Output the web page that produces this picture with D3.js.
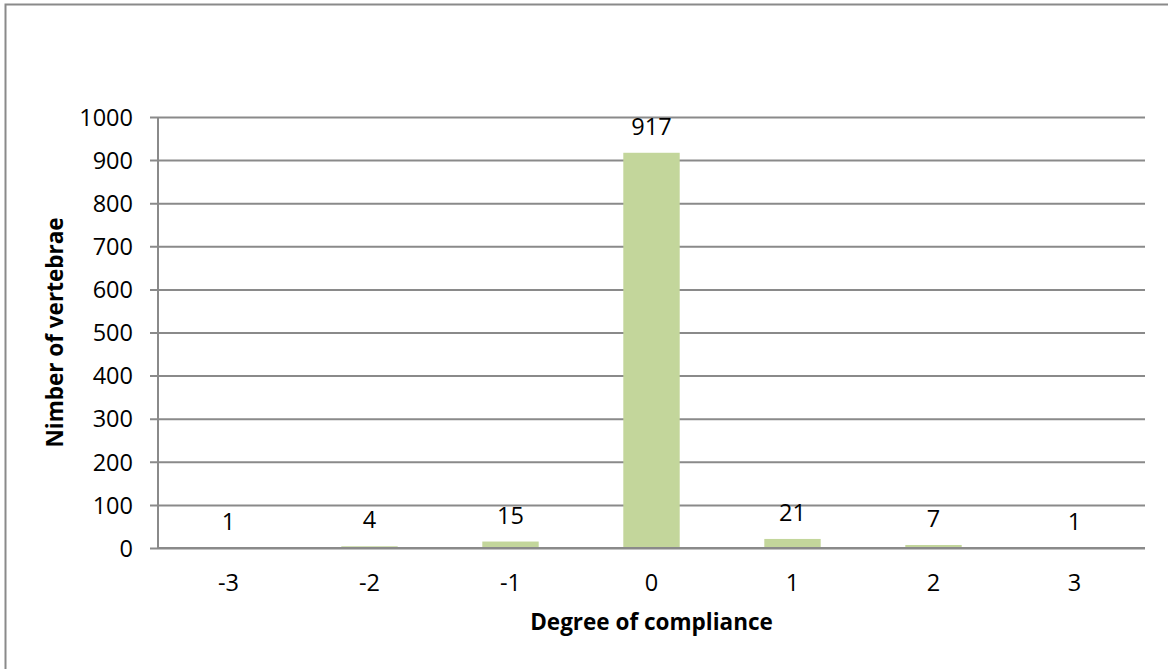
<!DOCTYPE html>
<html>
<head>
<meta charset="utf-8">
<script src="https://cdn.jsdelivr.net/npm/d3@7/dist/d3.min.js"></script>
<style>
  html, body { margin: 0; padding: 0; background: #fff; }
  svg { display: block; }
  text { font-family: "Open Sans", "Liberation Sans", sans-serif; fill: #000; }
</style>
</head>
<body>
<svg id="chart" width="1168" height="669"></svg>
<script>
// Degree of compliance vs. number of vertebrae
const categories = ["-3", "-2", "-1", "0", "1", "2", "3"];
const counts = [1, 4, 15, 917, 21, 7, 1];
const yTicks = [0, 100, 200, 300, 400, 500, 600, 700, 800, 900, 1000];

const svg = d3.select("#chart");
const W = 1168, H = 669;
const plot = { left: 158, right: 1145, top: 117, bottom: 548 };
const gridColor = "#8a8a8a";
const labelSize = 23.5;
const titleSize = 22.5;

// Outer chart frame (runs off the right and bottom edges)
svg.append("rect")
  .attr("x", 5.5).attr("y", 4.5)
  .attr("width", W + 20).attr("height", H + 20)
  .attr("fill", "none")
  .attr("stroke", gridColor)
  .attr("stroke-width", 2);

const x = d3.scaleBand()
  .domain(categories)
  .range([plot.left, plot.right])
  .paddingInner(0.6)
  .paddingOuter(0.3);

const y = d3.scaleLinear()
  .domain([0, 1000])
  .range([plot.bottom, plot.top]);

// Horizontal gridlines with y-axis tick labels
const yAxis = d3.axisLeft(y)
  .tickValues(yTicks)
  .tickFormat(d3.format("d"))
  .tickSize(-(plot.right - plot.left))
  .tickPadding(17)
  .tickSizeOuter(0);

const gy = svg.append("g")
  .attr("transform", `translate(${plot.left},0)`)
  .call(yAxis);
gy.select(".domain").remove();
gy.selectAll(".tick line")
  .attr("stroke", gridColor)
  .attr("stroke-width", 2)
  .attr("x1", -8);
gy.selectAll(".tick text")
  .attr("font-size", labelSize)
  .attr("x", -25)
  .attr("dy", "0.35em");

// Vertical axis line
svg.append("line")
  .attr("x1", plot.left).attr("x2", plot.left)
  .attr("y1", plot.top).attr("y2", plot.bottom)
  .attr("stroke", gridColor)
  .attr("stroke-width", 2);

// Bars
svg.append("g")
  .selectAll("rect")
  .data(counts)
  .join("rect")
  .attr("x", (d, i) => x(categories[i]))
  .attr("width", x.bandwidth())
  .attr("y", d => y(d))
  .attr("height", d => y(0) - y(d))
  .attr("fill", "#c3d69b");

// Baseline redrawn over the bars' bottom edge
svg.append("line")
  .attr("x1", plot.left).attr("x2", plot.right)
  .attr("y1", y(0)).attr("y2", y(0))
  .attr("stroke", gridColor)
  .attr("stroke-width", 2);

// Value labels above each bar
svg.append("g")
  .selectAll("text")
  .data(counts)
  .join("text")
  .attr("x", (d, i) => x(categories[i]) + x.bandwidth() / 2)
  .attr("y", d => y(d) - 18)
  .attr("text-anchor", "middle")
  .attr("font-size", labelSize)
  .text(d => d);

// Category labels
const xAxis = d3.axisBottom(x).tickSize(0).tickPadding(0);
const gx = svg.append("g")
  .attr("transform", `translate(0,${plot.bottom})`)
  .call(xAxis);
gx.select(".domain").remove();
gx.selectAll(".tick text")
  .attr("font-size", labelSize)
  .attr("y", 35)
  .attr("dy", "0.35em");

// Axis titles
svg.append("text")
  .attr("x", (plot.left + plot.right) / 2)
  .attr("y", 622)
  .attr("dy", "0.35em")
  .attr("text-anchor", "middle")
  .attr("font-size", titleSize)
  .attr("font-weight", "bold")
  .text("Degree of compliance");

svg.append("text")
  .attr("transform", `translate(55,${(plot.top + plot.bottom) / 2}) rotate(-90)`)
  .attr("dy", "0.35em")
  .attr("text-anchor", "middle")
  .attr("font-size", titleSize)
  .attr("font-weight", "bold")
  .text("Nimber of vertebrae");
</script>
</body>
</html>
